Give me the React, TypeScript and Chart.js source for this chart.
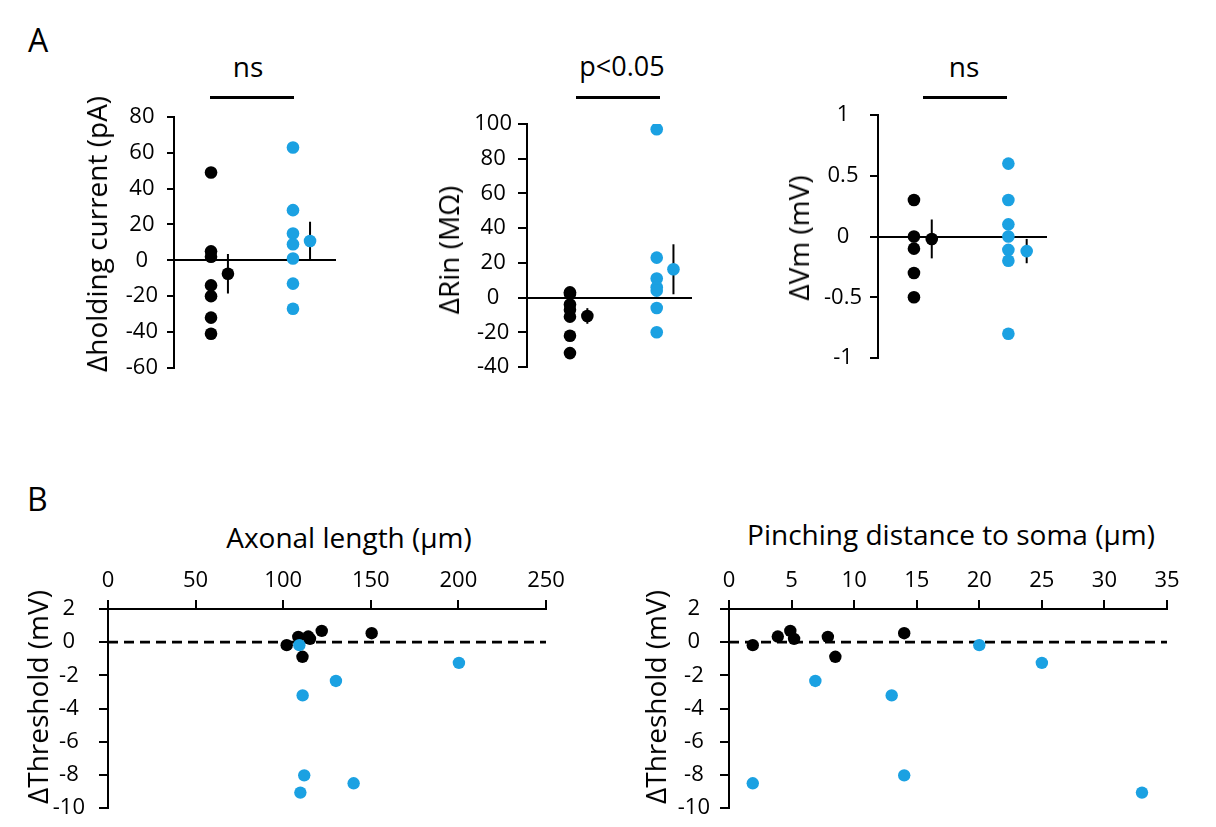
import React, { useEffect, useRef } from "react";
import { Chart, registerables } from "chart.js";

Chart.register(...registerables);

const FONT = '"Open Sans", "DejaVu Sans", sans-serif';
const BLACK = "#000000";
const BLUE = "#1ba1e2";
const TICK_FONT = { family: FONT, size: 22 };

// ---- Panel A: per-cell changes, control cells (black) vs pinched cells (blue)
const holdingCtrl = [49, 5, 2, -14, -20, -32, -41];
const holdingTest = [63, 28, 15, 9, 1, -13, -27];
const holdingMean = [-7.5, 10.8];
const holdingErr = [11, 10.7];

const rinCtrl = [3, 2, -4, -7, -11, -22, -32];
const rinTest = [97, 23, 11, 6, 4, -6, -20];
const rinMean = [-10.6, 16.3];
const rinErr = [4.5, 14.4];

const vmCtrl = [0.3, 0, -0.1, -0.3, -0.5];
const vmTest = [0.6, 0.3, 0.1, 0, -0.11, -0.2, -0.8];
const vmMean = [-0.02, -0.12];
const vmErr = [0.16, 0.1];

// ---- Panel B: threshold change against axonal length / pinching distance
const thrCtrl = [-0.88, -0.18, 0.2, 0.32, 0.34, 0.54, 0.68];
const axonLenCtrl = [111, 102, 115.3, 108.6, 114.3, 150.5, 122];
const pinchDistCtrl = [8.5, 1.9, 5.2, 7.9, 3.9, 14.0, 4.9];

const thrTest = [-0.18, -1.25, -2.34, -3.21, -8.03, -8.51, -9.07];
const axonLenTest = [109.2, 200.3, 130.1, 111.1, 112, 140.2, 109.8];
const pinchDistTest = [20, 25, 6.9, 13, 14, 1.9, 33];

type Pad = { top: number; right: number; bottom: number };

type DotPlotSpec = {
  ctrl: number[];
  test: number[];
  mean: number[];
  err: number[];
  slots: number[]; // horizontal slot of ctrl dots, ctrl mean, test dots, test mean (0..100)
  yMin: number;
  yMax: number;
  yStep: number;
  axisWidth: number;
  pad: Pad;
  tickLength: number;
  tickPadding: number;
};

const pointStyle = (color: string, r = 6.3) => ({
  backgroundColor: color,
  borderColor: color,
  borderWidth: 0,
  pointRadius: r,
  pointHoverRadius: r,
});

const fmt = (v: number | string) => `${v}`;

function dotPlotConfig(s: DotPlotSpec): any {
  const [cx, cmx, tx, tmx] = s.slots;
  const errBar = (x: number, m: number, e: number) => ({
    data: [
      { x, y: m - e },
      { x, y: m + e },
    ],
    showLine: true,
    borderColor: BLACK,
    borderWidth: 2,
    pointRadius: 0,
  });
  return {
    type: "scatter",
    data: {
      datasets: [
        { data: [{ x: tmx, y: s.mean[1] }], ...pointStyle(BLUE) },
        { data: [{ x: cmx, y: s.mean[0] }], ...pointStyle(BLACK) },
        { data: s.test.map((y) => ({ x: tx, y })), ...pointStyle(BLUE) },
        { data: s.ctrl.map((y) => ({ x: cx, y })), ...pointStyle(BLACK) },
        errBar(cmx, s.mean[0], s.err[0]),
        errBar(tmx, s.mean[1], s.err[1]),
      ],
    },
    options: {
      animation: false,
      responsive: false,
      maintainAspectRatio: false,
      events: [],
      layout: { padding: { left: 0, ...s.pad } },
      plugins: { legend: { display: false }, tooltip: { enabled: false } },
      scales: {
        x: {
          type: "linear",
          min: 0,
          max: 100,
          position: { y: 0 },
          ticks: { display: false },
          grid: { display: false },
          border: { display: true, color: BLACK, width: 2 },
        },
        y: {
          type: "linear",
          position: "left",
          min: s.yMin,
          max: s.yMax,
          ticks: {
            stepSize: s.yStep,
            color: BLACK,
            font: TICK_FONT,
            padding: s.tickPadding,
            crossAlign: "center",
            callback: fmt,
          },
          grid: {
            drawOnChartArea: false,
            drawTicks: true,
            tickLength: s.tickLength,
            color: BLACK,
            lineWidth: 2,
          },
          border: { display: true, color: BLACK, width: 2 },
          afterFit: (scale: any) => {
            scale.width = s.axisWidth;
          },
        },
      },
    },
  };
}

type ScatterSpec = {
  ctrlX: number[];
  testX: number[];
  xMax: number;
  xStep: number;
  axisWidth: number;
  axisHeight: number;
  pad: Pad;
  tickPadding: number;
};

function scatterConfig(s: ScatterSpec): any {
  return {
    type: "scatter",
    data: {
      datasets: [
        { data: s.testX.map((x, i) => ({ x, y: thrTest[i] })), ...pointStyle(BLUE, 6.2) },
        { data: s.ctrlX.map((x, i) => ({ x, y: thrCtrl[i] })), ...pointStyle(BLACK, 6.2) },
        {
          data: [
            { x: 0, y: 0 },
            { x: s.xMax, y: 0 },
          ],
          showLine: true,
          borderColor: BLACK,
          borderWidth: 2.6,
          borderDash: [10, 6],
          pointRadius: 0,
        },
      ],
    },
    options: {
      animation: false,
      responsive: false,
      maintainAspectRatio: false,
      events: [],
      layout: { padding: { left: 0, ...s.pad } },
      plugins: { legend: { display: false }, tooltip: { enabled: false } },
      scales: {
        x: {
          type: "linear",
          position: "top",
          min: 0,
          max: s.xMax,
          ticks: {
            stepSize: s.xStep,
            color: BLACK,
            font: TICK_FONT,
            padding: 6,
            maxRotation: 0,
            autoSkip: false,
            callback: fmt,
          },
          grid: {
            drawOnChartArea: false,
            drawTicks: true,
            tickLength: 9,
            color: BLACK,
            lineWidth: 2,
          },
          border: { display: true, color: BLACK, width: 2 },
          afterFit: (scale: any) => {
            scale.height = s.axisHeight;
          },
        },
        y: {
          type: "linear",
          position: "left",
          min: -10,
          max: 2,
          ticks: {
            stepSize: 2,
            color: BLACK,
            font: TICK_FONT,
            padding: s.tickPadding,
            crossAlign: "center",
            callback: fmt,
          },
          grid: {
            drawOnChartArea: false,
            drawTicks: true,
            tickLength: 9,
            color: BLACK,
            lineWidth: 2,
          },
          border: { display: true, color: BLACK, width: 2 },
          afterFit: (scale: any) => {
            scale.width = s.axisWidth;
          },
        },
      },
    },
  };
}

type BoxProps = { left: number; top: number; width: number; height: number; config: () => any };

function ChartBox({ left, top, width, height, config }: BoxProps) {
  const ref = useRef<HTMLCanvasElement>(null);
  useEffect(() => {
    if (!ref.current) return;
    const chart = new Chart(ref.current, config());
    return () => chart.destroy();
  }, []);
  return (
    <canvas
      ref={ref}
      width={width}
      height={height}
      style={{ position: "absolute", left, top, width, height }}
    />
  );
}

const textBase: React.CSSProperties = {
  position: "absolute",
  fontFamily: FONT,
  lineHeight: 1,
  whiteSpace: "nowrap",
  color: BLACK,
};

function Label({ text, cx, top, size = 28 }: { text: string; cx: number; top: number; size?: number }) {
  return (
    <div style={{ ...textBase, left: cx, top, fontSize: size, transform: "translateX(-50%)" }}>{text}</div>
  );
}

function VLabel({ text, cx, cy, size = 28 }: { text: string; cx: number; cy: number; size?: number }) {
  return (
    <div
      style={{
        ...textBase,
        left: cx,
        top: cy,
        fontSize: size,
        transform: "translate(-50%, -50%) rotate(-90deg)",
      }}
    >
      {text}
    </div>
  );
}

function Bracket({ left, width }: { left: number; width: number }) {
  return <div style={{ position: "absolute", left, top: 96, width, height: 3, background: BLACK }} />;
}

export default function App() {
  return (
    <div
      style={{
        position: "absolute",
        left: 0,
        top: 0,
        width: 1216,
        height: 827,
        background: "#ffffff",
        overflow: "hidden",
      }}
    >
      <div style={{ ...textBase, left: 28, top: 24, fontSize: 32 }}>A</div>
      <div style={{ ...textBase, left: 27, top: 483, fontSize: 32 }}>B</div>

      <Label text="ns" cx={248} top={52} />
      <Bracket left={210} width={84} />
      <Label text="p<0.05" cx={622} top={52} size={27} />
      <Bracket left={576} width={84} />
      <Label text="ns" cx={964} top={52} />
      <Bracket left={923} width={84} />

      <ChartBox
        left={40}
        top={90}
        width={320}
        height={300}
        config={() =>
          dotPlotConfig({
            ctrl: holdingCtrl,
            test: holdingTest,
            mean: holdingMean,
            err: holdingErr,
            slots: [23.0, 33.5, 73.9, 84.5],
            yMin: -60,
            yMax: 80,
            yStep: 20,
            axisWidth: 134,
            pad: { top: 27, right: 25, bottom: 22 },
            tickLength: 7,
            tickPadding: 9,
          })
        }
      />
      <ChartBox
        left={400}
        top={90}
        width={320}
        height={300}
        config={() =>
          dotPlotConfig({
            ctrl: rinCtrl,
            test: rinTest,
            mean: rinMean,
            err: rinErr,
            slots: [26.2, 36.8, 79.1, 89.3],
            yMin: -40,
            yMax: 100,
            yStep: 20,
            axisWidth: 127,
            pad: { top: 34, right: 29, bottom: 23 },
            tickLength: 9,
            tickPadding: 6,
          })
        }
      />
      <ChartBox
        left={760}
        top={90}
        width={320}
        height={300}
        config={() =>
          dotPlotConfig({
            ctrl: vmCtrl,
            test: vmTest,
            mean: vmMean,
            err: vmErr,
            slots: [21.4, 32.0, 77.6, 88.5],
            yMin: -1,
            yMax: 1,
            yStep: 0.5,
            axisWidth: 118,
            pad: { top: 25, right: 34, bottom: 32 },
            tickLength: 8,
            tickPadding: 8,
          })
        }
      />

      <VLabel text="Δholding current (pA)" cx={96} cy={234} />
      <VLabel text="ΔRin (MΩ)" cx={448} cy={250} />
      <VLabel text="ΔVm (mV)" cx={798} cy={238} />

      <Label text="Axonal length (µm)" cx={349} top={523} />
      <Label text="Pinching distance to soma (µm)" cx={951} top={520} />

      <ChartBox
        left={0}
        top={500}
        width={600}
        height={345}
        config={() =>
          scatterConfig({
            ctrlX: axonLenCtrl,
            testX: axonLenTest,
            xMax: 250,
            xStep: 50,
            axisWidth: 108,
            axisHeight: 109,
            pad: { top: 0, right: 54, bottom: 37 },
            tickPadding: 14,
          })
        }
      />
      <ChartBox
        left={610}
        top={500}
        width={606}
        height={345}
        config={() =>
          scatterConfig({
            ctrlX: pinchDistCtrl,
            testX: pinchDistTest,
            xMax: 35,
            xStep: 5,
            axisWidth: 119,
            axisHeight: 109,
            pad: { top: 0, right: 49, bottom: 37 },
            tickPadding: 10,
          })
        }
      />

      <VLabel text="ΔThreshold (mV)" cx={37} cy={697} />
      <VLabel text="ΔThreshold (mV)" cx={655} cy={697} />
    </div>
  );
}
